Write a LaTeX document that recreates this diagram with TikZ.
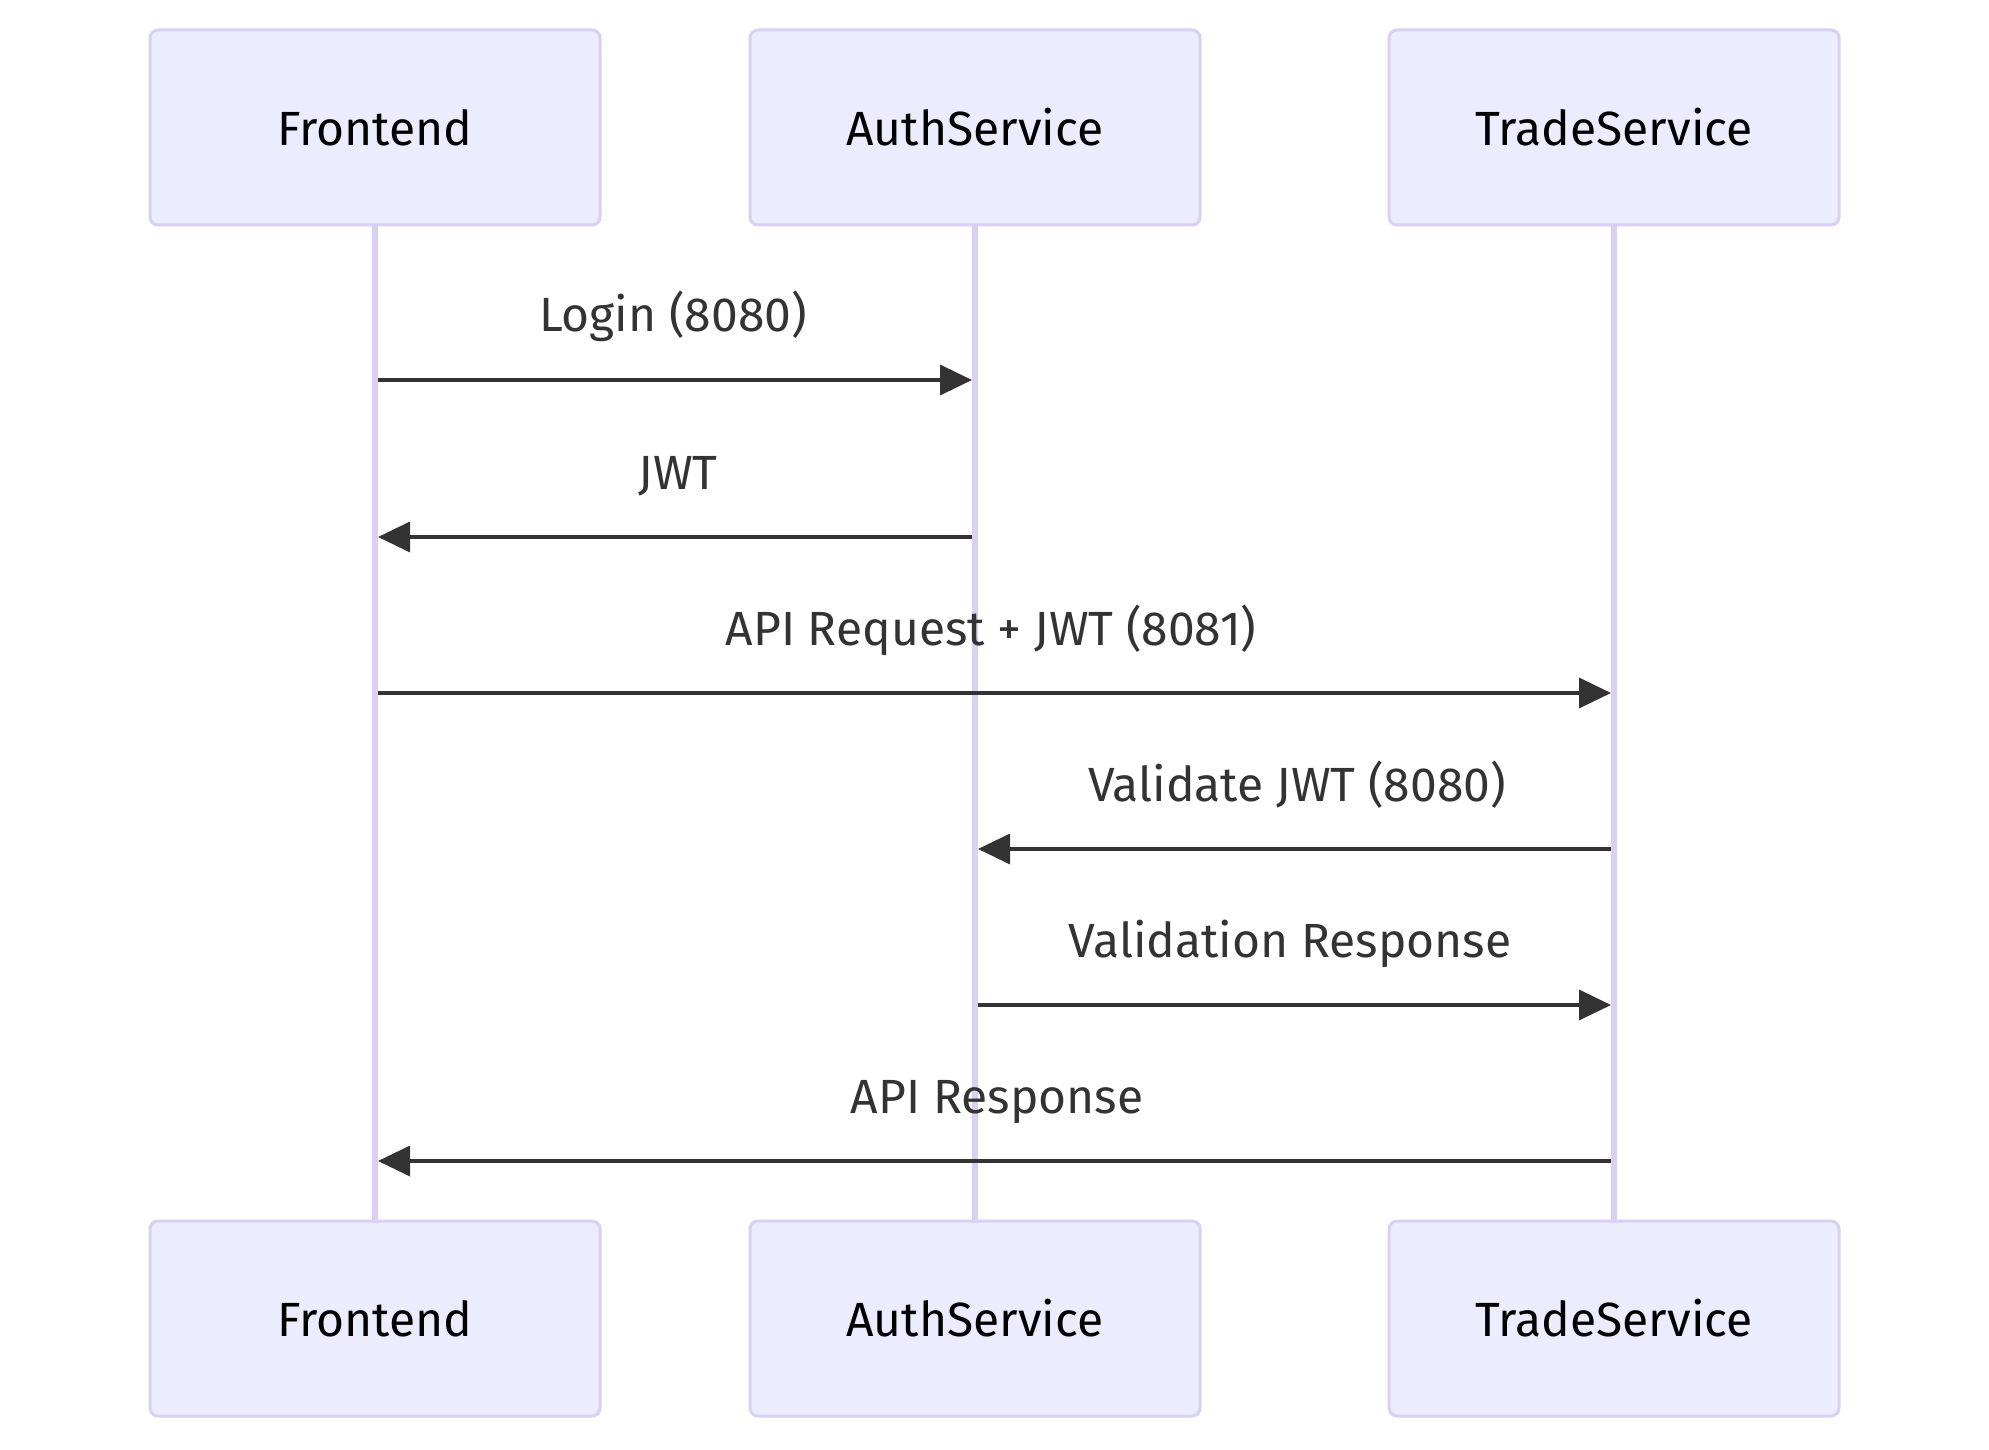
\documentclass[tikz,border=0pt]{standalone}
\usepackage{fontspec}
\setmainfont{Fira Sans}
\usetikzlibrary{arrows.meta}
\definecolor{actfill}{HTML}{ECECFF}
\definecolor{actline}{HTML}{D9D0F3}
\definecolor{sig}{HTML}{333333}
\tikzset{
  actor/.style={draw=actline, line width=1.5pt, fill=actfill, rounded corners=4pt,
    minimum width=225pt, minimum height=97.5pt, inner sep=0pt,
    font=\fontsize{24}{28}\selectfont, text=black},
  life/.style={draw=actline, line width=3pt},
  msg/.style={draw=sig, line width=1.8pt, -{Triangle[length=16pt,width=15pt]}},
  lbl/.style={font=\fontsize{24}{28}\selectfont, text=sig, anchor=base, inner sep=0pt}
}
\begin{document}
\begin{tikzpicture}[x=0.5pt,y=-0.5pt]
\useasboundingbox (0,0) rectangle (1989,1449);
\fill[white] (0,0) rectangle (1989,1449);
% lifelines
\coordinate (fT) at (375,225); \coordinate (fB) at (375,1221);
\coordinate (aT) at (975,225); \coordinate (aB) at (975,1221);
\coordinate (tT) at (1614,225); \coordinate (tB) at (1614,1221);
\draw[life] (fT) -- (fB);
\draw[life] (aT) -- (aB);
\draw[life] (tT) -- (tB);
% actors
\node[actor] (f1) at (375,127.5) {Frontend};
\node[actor] (a1) at (975,127.5) {AuthService};
\node[actor] (t1) at (1614,127.5) {TradeService};
\node[actor] (f2) at (375,1318.5) {Frontend};
\node[actor] (a2) at (975,1318.5) {AuthService};
\node[actor] (t2) at (1614,1318.5) {TradeService};
% message endpoints
\coordinate (m1s) at (378,380);  \coordinate (m1e) at (972,380);
\coordinate (m2s) at (972,537);  \coordinate (m2e) at (378,537);
\coordinate (m3s) at (378,693);  \coordinate (m3e) at (1611,693);
\coordinate (m4s) at (1611,849); \coordinate (m4e) at (978,849);
\coordinate (m5s) at (978,1005); \coordinate (m5e) at (1611,1005);
\coordinate (m6s) at (1611,1161);\coordinate (m6e) at (378,1161);
\draw[msg] (m1s) -- (m1e);
\draw[msg] (m2s) -- (m2e);
\draw[msg] (m3s) -- (m3e);
\draw[msg] (m4s) -- (m4e);
\draw[msg] (m5s) -- (m5e);
\draw[msg] (m6s) -- (m6e);
% labels
\node[lbl] (l1) at (673,332) {Login (8080)};
\node[lbl] (l2) at (678,489) {JWT};
\node[lbl] (l3) at (991,645) {API Request + JWT (8081)};
\node[lbl] (l4) at (1297,801) {Validate JWT (8080)};
\node[lbl] (l5) at (1290,957) {Validation Response};
\node[lbl] (l6) at (997,1113) {API Response};
\end{tikzpicture}
\end{document}
